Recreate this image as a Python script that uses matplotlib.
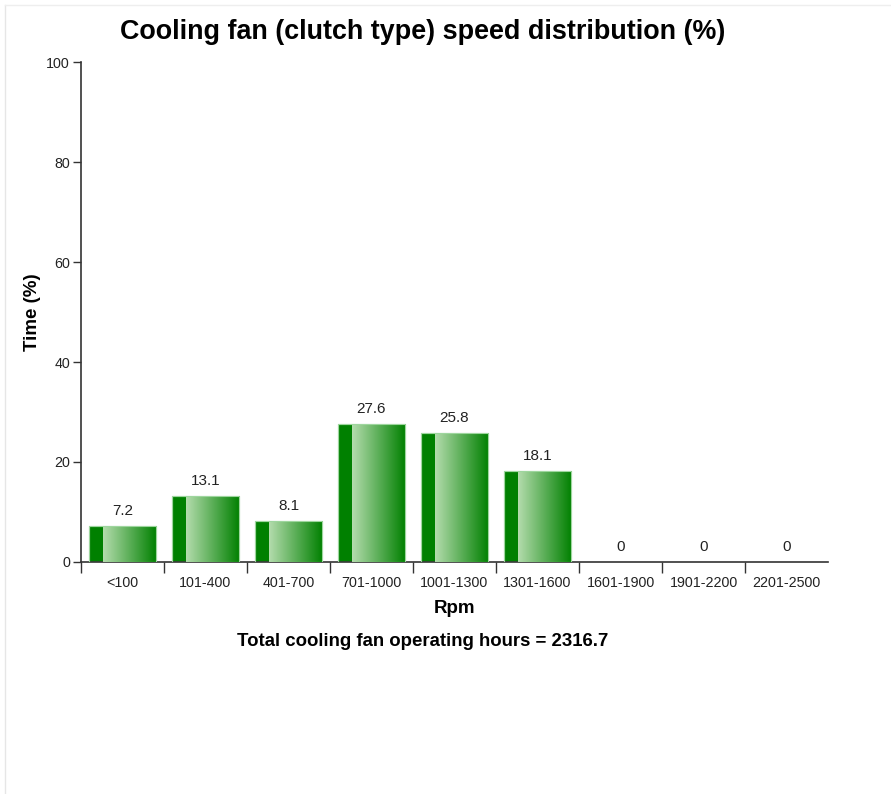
import numpy as np
import matplotlib
matplotlib.use("Agg")
import matplotlib.pyplot as plt
from matplotlib.colors import LinearSegmentedColormap
from matplotlib.lines import Line2D

plt.rcParams['font.family'] = ['Liberation Sans', 'DejaVu Sans']

# datos
rangos = ['<100', '101-400', '401-700', '701-1000', '1001-1300',
          '1301-1600', '1601-1900', '1901-2200', '2201-2500']
tiempo = [7.2, 13.1, 8.1, 27.6, 25.8, 18.1, 0, 0, 0]
etiquetas = ['7.2', '13.1', '8.1', '27.6', '25.8', '18.1', '0', '0', '0']
horas_total = 2316.7

fig = plt.figure(figsize=(8.91, 7.94), dpi=100)
ax = fig.add_axes([0.0909, 0.2922, 0.8384, 0.6297])

x = np.arange(len(rangos))
ancho = 0.8
barras = ax.bar(x, tiempo, ancho, color='#008000', edgecolor='#9ed69e',
                linewidth=0.8, zorder=2)

# degradado claro -> oscuro en cada barra
cmap = LinearSegmentedColormap.from_list('verde', ['#b4dcad', '#008000'])
grad = np.linspace(0, 1, 256).reshape(1, -1)
for b in barras:
    h = b.get_height()
    if h <= 0:
        continue
    x0 = b.get_x()
    w = b.get_width()
    im = ax.imshow(grad, cmap=cmap, aspect='auto', zorder=3,
                   extent=(x0 + 0.2 * w, x0 + w, 0, h))
    im.set_clip_path(b)
    ax.add_patch(plt.Rectangle((x0, 0), w, h, fill=False,
                               edgecolor='#9ed69e', linewidth=0.8, zorder=4))

for xi, v, t in zip(x, tiempo, etiquetas):
    ax.text(xi, v + 3.0, t, ha='center', va='center', fontsize=11,
            color='#222222', zorder=5)

ax.set_xlim(-0.5, len(rangos) - 0.5)
ax.set_ylim(0, 100)
ax.set_yticks([0, 20, 40, 60, 80, 100])
ax.set_xticks(x)
ax.set_xticklabels(rangos)
ax.set_xticks(np.arange(len(rangos)) - 0.5, minor=True)
ax.tick_params(axis='x', which='major', length=0, pad=10, labelsize=10.3,
               labelcolor='#222222')
ax.tick_params(axis='x', which='minor', length=8, width=1, color='#333333')
ax.tick_params(axis='y', length=6, width=1, color='#333333', labelsize=10.3,
               labelcolor='#222222', pad=2)

for s in ['top', 'right']:
    ax.spines[s].set_visible(False)
for s in ['left', 'bottom']:
    ax.spines[s].set_color('#333333')
    ax.spines[s].set_linewidth(1.2)

ax.set_xlabel('Rpm', fontsize=13.5, fontweight='bold', labelpad=7)
ax.set_ylabel('Time (%)', fontsize=13.5, fontweight='bold', labelpad=4)

fig.text(0.474, 0.960, 'Cooling fan (clutch type) speed distribution (%)',
         ha='center', va='center', fontsize=19.4, fontweight='bold')
fig.text(0.474, 0.192, f'Total cooling fan operating hours = {horas_total}',
         ha='center', va='center', fontsize=13.4, fontweight='bold')

# marco gris claro
fig.add_artist(Line2D([5 / 891, 5 / 891], [0, 1 - 5 / 794], color='#e6e6e6',
                      linewidth=1, transform=fig.transFigure))
fig.add_artist(Line2D([5 / 891, 1], [1 - 5 / 794, 1 - 5 / 794], color='#eeeeee',
                      linewidth=1, transform=fig.transFigure))

fig.savefig('out.png', dpi=100)
